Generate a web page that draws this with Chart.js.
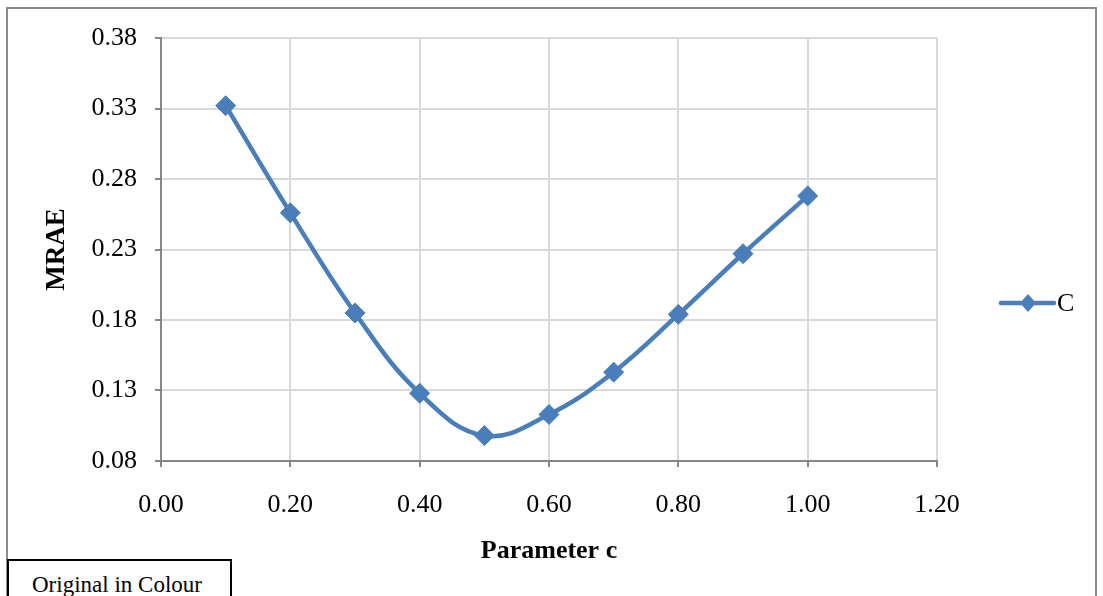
<!DOCTYPE html>
<html>
<head>
<meta charset="utf-8">
<script src="https://cdn.jsdelivr.net/npm/chart.js@4"></script>
<style>
  html, body { margin: 0; padding: 0; background: #fff; overflow: hidden; }
  #wrap { position: relative; width: 1103px; height: 596px; }
  #grafico { position: absolute; left: 0; top: 0; }
  #marco {
    position: absolute; left: 6px; top: 7px; width: 1091px; height: 620px;
    border: 2px solid #8c8c8c; box-sizing: border-box; pointer-events: none;
  }
  #nota {
    position: absolute; left: 7px; top: 559px; width: 225px; height: 60px;
    border: 2px solid #000; box-sizing: border-box; background: #fff;
    font-family: "Liberation Serif", "Times New Roman", serif; font-size: 23px;
    padding: 11px 0 0 23px; color: #000;
  }
</style>
</head>
<body>
<div id="wrap">
  <canvas id="grafico" width="1103" height="596"></canvas>
  <div id="marco"></div>
  <div id="nota">Original in Colour</div>
</div>
<script>
// valores del parametro c y su error MRAE
const parametroC = [0.1, 0.2, 0.3, 0.4, 0.5, 0.6, 0.7, 0.8, 0.9, 1.0];
const valoresMRAE = [0.332, 0.256, 0.185, 0.128, 0.098, 0.113, 0.143, 0.184, 0.227, 0.268];
const nombreSerie = 'C';
const tituloX = 'Parameter c';
const tituloY = 'MRAE';

const azul = '#4a7ebb';
const fuente = '"Liberation Serif", "Times New Roman", serif';

// leyenda dibujada a mano: linea con rombo y el nombre de la serie
const leyendaLinea = {
    id: 'leyendaLinea',
    afterDraw(chart) {
        const ctx = chart.ctx;
        const y = 303;
        ctx.save();
        ctx.strokeStyle = azul;
        ctx.lineWidth = 4.5;
        ctx.lineCap = 'round';
        ctx.beginPath();
        ctx.moveTo(1001, y);
        ctx.lineTo(1054, y);
        ctx.stroke();
        ctx.fillStyle = azul;
        ctx.beginPath();
        ctx.moveTo(1028, y - 9);
        ctx.lineTo(1036, y);
        ctx.lineTo(1028, y + 9);
        ctx.lineTo(1020, y);
        ctx.closePath();
        ctx.fill();
        ctx.fillStyle = '#000';
        ctx.font = '26px ' + fuente;
        ctx.textBaseline = 'middle';
        ctx.fillText(nombreSerie, 1057, y + 1);
        ctx.restore();
    }
};

const ctxLinea = document.getElementById('grafico').getContext('2d');
new Chart(ctxLinea, {
    type: 'line',
    data: {
        datasets: [{
            label: nombreSerie,
            data: parametroC.map((x, i) => ({ x: x, y: valoresMRAE[i] })),
            borderColor: azul,
            backgroundColor: azul,
            borderWidth: 4.5,
            tension: 0.4,
            pointStyle: 'rectRot',
            pointRadius: 10,
            pointBorderWidth: 1,
            pointBackgroundColor: azul,
            pointBorderColor: azul
        }]
    },
    options: {
        responsive: false,
        animation: false,
        layout: { padding: { left: 0, top: 38, right: 166, bottom: 0 } },
        plugins: {
            legend: { display: false },
            tooltip: { enabled: false }
        },
        scales: {
            x: {
                type: 'linear',
                min: 0,
                max: 1.2,
                afterFit(scale) { scale.height = 135; },
                ticks: {
                    stepSize: 0.2,
                    padding: 23,
                    color: '#000',
                    font: { family: fuente, size: 26 },
                    callback: v => v.toFixed(2)
                },
                grid: { color: '#d9d9d9', lineWidth: 2, tickLength: 6, tickColor: '#868686', tickWidth: 2 },
                border: { color: '#868686', width: 2 },
                title: {
                    display: true,
                    text: tituloX,
                    color: '#000',
                    font: { family: fuente, size: 26, weight: 'bold' },
                    padding: { top: 29, bottom: 29 }
                }
            },
            y: {
                min: 0.08,
                max: 0.38,
                afterFit(scale) { scale.width = 161; },
                ticks: {
                    stepSize: 0.05,
                    padding: 18,
                    color: '#000',
                    font: { family: fuente, size: 26 },
                    callback: v => v.toFixed(2)
                },
                grid: { color: '#d9d9d9', lineWidth: 2, tickLength: 6, tickColor: '#868686', tickWidth: 2 },
                border: { color: '#868686', width: 2 },
                title: {
                    display: true,
                    text: tituloY,
                    color: '#000',
                    font: { family: fuente, size: 27, weight: 'bold' },
                    padding: { top: 41, bottom: 0 }
                }
            }
        }
    },
    plugins: [leyendaLinea]
});
</script>
</body>
</html>
